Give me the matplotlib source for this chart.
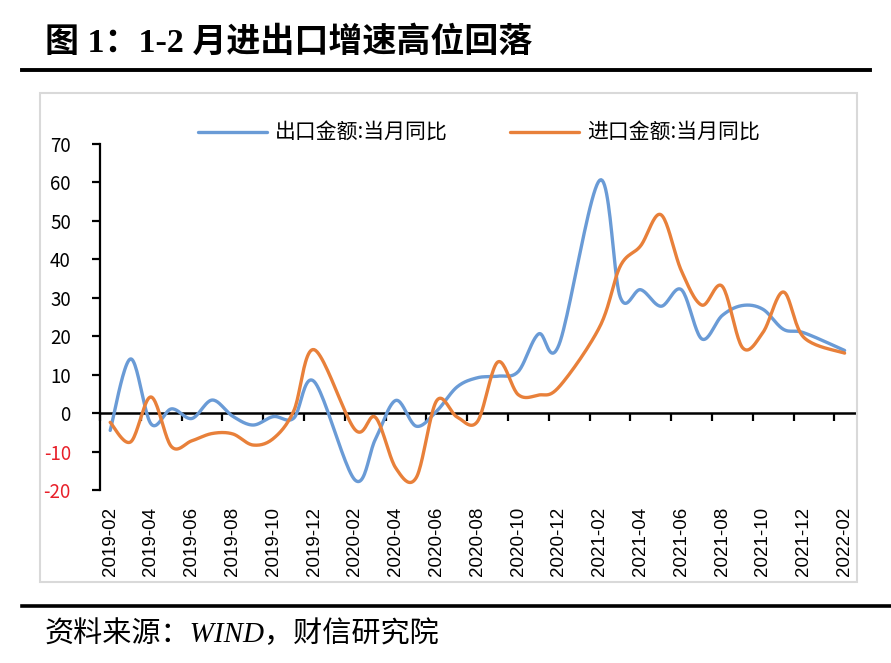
import matplotlib
matplotlib.use("Agg")
import matplotlib.pyplot as plt
import numpy as np
import pandas as pd
from matplotlib.lines import Line2D
from matplotlib.patches import Rectangle

plt.rcParams["font.family"] = ["Noto Sans CJK SC", "DejaVu Sans"]

nan = np.nan
months = list(pd.date_range("2019-02", "2022-02", freq="MS").strftime("%Y-%m"))

# 出口/进口金额当月同比 (%); Jan values are merged into Feb, so they are blank
export_yoy = [-4.5, 14.1, -2.8, 1.1, -1.4, 3.4, -0.8, -3.1, -0.9, -1.3, 8.2, nan,
              -17.4, -6.8, 3.3, -3.4, 0.5, 6.8, 9.2, 9.6, 10.8, 20.6, 17.8, nan,
              60.6, 30.2, 32.1, 27.8, 32.1, 19.3, 25.4, 28.0, 27.0, 21.8, 20.9, nan,
              16.3]
import_yoy = [-2.4, -7.5, 4.2, -8.7, -7.2, -5.3, -5.4, -8.3, -6.6, 0.6, 16.5, nan,
              -4.3, -1.1, -14.3, -16.8, 3.2, -1.0, -2.2, 13.3, 4.8, 4.7, 6.8, nan,
              22.5, 38.2, 43.5, 51.6, 37.0, 28.1, 33.0, 17.0, 21.0, 31.5, 19.7, nan,
              15.6]

export_label = "出口金额:当月同比"
import_label = "进口金额:当月同比"
yticks = list(range(-20, 71, 10))


def smooth(xs, ys, ky=3.84 / 20.4, steps=24):
    # Excel-style smoothed line (Catmull-Rom as Bezier), skipping blanks
    xs = np.asarray(xs, float)
    ys = np.asarray(ys, float)
    ok = ~np.isnan(ys)
    p = np.column_stack([xs[ok], ys[ok] * ky])
    n = len(p)
    out = []
    t = np.linspace(0, 1, steps)[:, None]
    for k in range(n - 1):
        p0 = p[max(k - 1, 0)]
        p1 = p[k]
        p2 = p[k + 1]
        p3 = p[min(k + 2, n - 1)]
        b1 = p1 + (p2 - p0) / 6
        b2 = p2 - (p3 - p1) / 6
        seg = ((1 - t) ** 3) * p1 + 3 * ((1 - t) ** 2) * t * b1 + 3 * (1 - t) * t ** 2 * b2 + t ** 3 * p2
        out.append(seg if k == 0 else seg[1:])
    out = np.vstack(out)
    return out[:, 0], out[:, 1] / ky


W, H = 891, 663
fig = plt.figure(figsize=(W / 100, H / 100), dpi=100)

# page decorations
fig.text(45 / W, 1 - 43 / H, "图 1：1-2 月进出口增速高位回落", fontsize=24.5, fontweight="bold",
         family=["Liberation Serif", "Noto Sans CJK SC"], va="center", ha="left")
fig.add_artist(Line2D([22 / W, 870 / W], [1 - 70 / H] * 2, lw=2.8, color="black"))
fig.add_artist(Line2D([22 / W, 1.0], [1 - 606 / H] * 2, lw=2.6, color="black"))
fig.text(45 / W, 1 - 634 / H, "资料来源：WIND，财信研究院", fontsize=21, style="italic",
         family=["Liberation Serif", "Noto Sans CJK SC"], va="center", ha="left")
fig.add_artist(Rectangle((40 / W, 1 - 582 / H), 817 / W, 489 / H, transform=fig.transFigure,
                         fill=False, edgecolor="#D9D9D9", lw=1.5))

ax = fig.add_axes([100 / W, 1 - 490 / H, 754.8 / W, 346 / H])
x = np.arange(len(months))
ex, ey = smooth(x, export_yoy)
ix, iy = smooth(x, import_yoy)
l1, = ax.plot(ex, ey, color="#6A9BD6", lw=2.4, solid_capstyle="round", label=export_label)
l2, = ax.plot(ix, iy, color="#E8803A", lw=2.4, solid_capstyle="round", label=import_label)

ax.set_xlim(-0.5, len(months) - 0.5)
ax.set_ylim(-20, 70)
for s in ("top", "right", "bottom"):
    ax.spines[s].set_visible(False)
ax.spines["left"].set_linewidth(1.6)

ax.set_yticks(yticks)
ax.set_yticklabels([str(v) for v in yticks])
ax.tick_params(axis="y", direction="out", length=6, width=1.6, pad=15, labelsize=13.5)
for lab, v in zip(ax.get_yticklabels(), yticks):
    lab.set_color("#E8202A" if v < 0 else "black")

ax.set_xticks(x[::2])
ax.set_xticklabels(months[::2], rotation=90, fontsize=13.5, family=["Liberation Sans", "DejaVu Sans"])
ax.tick_params(axis="x", length=0, pad=12)

# zero axis with boundary ticks
zero_ax = ax.secondary_xaxis(20 / 90)
zero_ax.set_xticks(np.arange(-0.5, len(months), 2))
zero_ax.set_xticklabels([])
zero_ax.tick_params(direction="out", length=6, width=1.6)
zero_ax.spines["bottom"].set_linewidth(1.8)

fig.legend(handles=[l1, l2], loc="center", bbox_to_anchor=(479 / W, 1 - 133 / H), ncol=2,
           frameon=False, fontsize=15, handlelength=3.3, handletextpad=0.4, columnspacing=3.0)

fig.savefig("out.png", dpi=100)
